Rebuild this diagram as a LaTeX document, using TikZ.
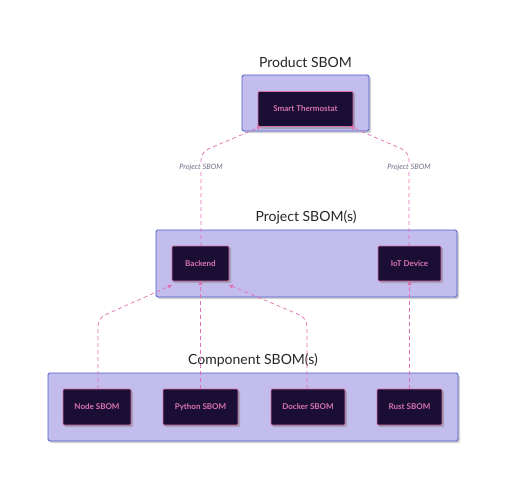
\documentclass[tikz,border=0pt]{standalone}
\usepackage{fontspec}
\setmainfont{Lato}
\usetikzlibrary{arrows.meta}
\definecolor{frfill}{HTML}{C2BDED}
\definecolor{frdraw}{HTML}{4A5CCB}
\definecolor{ndfill}{HTML}{1B0E35}
\definecolor{nddraw}{HTML}{D36FA8}
\definecolor{ndtext}{HTML}{D874AE}
\definecolor{edge}{HTML}{E070B0}
\definecolor{lbl}{HTML}{70708A}
\tikzset{
  frame/.style={draw=frdraw, fill=frfill, line width=0.9pt, rounded corners=1.5pt,
    inner sep=0pt, outer sep=0pt},
  frshadow/.style={fill=black!35, opacity=0.5, rounded corners=1.5pt},
  title/.style={font=\fontsize{14}{16}\selectfont, text=black!85, inner sep=0pt},
  sbom/.style={draw=nddraw, fill=ndfill, line width=0.8pt, rounded corners=1pt,
    text=ndtext, font=\fontsize{8}{9}\selectfont\bfseries, inner sep=0pt, outer sep=0pt},
  ndshadow/.style={fill=black!45, opacity=0.55, rounded corners=1pt},
  dep/.style={draw=edge, line width=0.7pt, dash pattern=on 4pt off 3pt,
    rounded corners=8pt, -{Triangle[length=4pt,width=4pt]}},
  elabel/.style={font=\fontsize{7.4}{8}\selectfont\itshape, text=lbl, fill=white, inner sep=1pt}
}
\begin{document}
\begin{tikzpicture}[x=1pt,y=-1pt]
\useasboundingbox[fill=white] (0,0) rectangle (510,493);
% frames
\fill[frshadow] (244,77) rectangle (371,133);
\path[frame] (242,75) rectangle (369,131);
\node[title] (tprod) at (305.5,62) {Product SBOM};
\fill[frshadow] (158,232) rectangle (459,299);
\path[frame] (156,230) rectangle (457,297);
\node[title] (tproj) at (306,217) {Project SBOM(s)};
\fill[frshadow] (50,375) rectangle (460,443);
\path[frame] (48,373) rectangle (458,441);
\node[title] (tcomp) at (253,360) {Component SBOM(s)};
% node shadows
\fill[ndshadow] (260,93) rectangle (355,129);
\fill[ndshadow] (174,248) rectangle (231,283);
\fill[ndshadow] (380,248) rectangle (443,283);
\fill[ndshadow] (65,391) rectangle (133,427);
\fill[ndshadow] (165,391) rectangle (240,427);
\fill[ndshadow] (273,391) rectangle (347,427);
\fill[ndshadow] (379,391) rectangle (444,427);
% nodes
\node[sbom, minimum width=95pt, minimum height=35pt] (st) at (305.5,109) {Smart Thermostat};
\node[sbom, minimum width=57pt, minimum height=35pt] (be) at (200.5,263.5) {Backend};
\node[sbom, minimum width=63pt, minimum height=35pt] (iot) at (409.5,263.5) {IoT Device};
\node[sbom, minimum width=68pt, minimum height=36pt] (ns) at (97,407) {Node SBOM};
\node[sbom, minimum width=75pt, minimum height=36pt] (ps) at (200.5,407) {Python SBOM};
\node[sbom, minimum width=74pt, minimum height=36pt] (ds) at (308,407) {Docker SBOM};
\node[sbom, minimum width=65pt, minimum height=36pt] (rs) at (409.5,407) {Rust SBOM};
% bend points
\coordinate (b1) at (201,152);
\coordinate (b2) at (409,152);
\coordinate (b3) at (98,318);
\coordinate (b4) at (307,318);
% connectors
\draw[dep] (be.north -| b1) -- (b1) -- ([xshift=3pt]st.south west);
\draw[dep] (iot.north -| b2) -- (b2) -- ([xshift=-3pt]st.south east);
\draw[dep] (ns.north -| b3) -- (b3) -- ([yshift=-4pt]be.south west);
\draw[dep] (ps.north -| be.south) -- (be.south);
\draw[dep] (ds.north -| b4) -- (b4) -- ([yshift=-4pt]be.south east);
\draw[dep] (rs.north -| iot.south) -- (iot.south);
% edge labels
\node[elabel] (l1) at (201,167) {Project SBOM};
\node[elabel] (l2) at (409,167) {Project SBOM};
\end{tikzpicture}
\end{document}
